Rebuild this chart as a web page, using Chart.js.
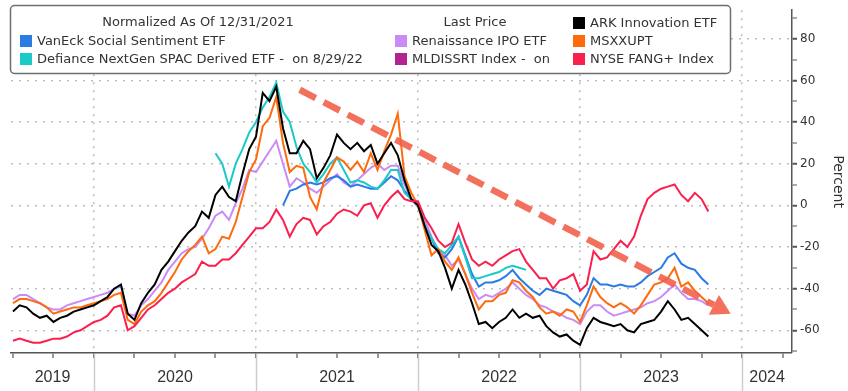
<!DOCTYPE html>
<html>
<head>
<meta charset="utf-8">
<script src="https://cdn.jsdelivr.net/npm/chart.js@4.4.1/dist/chart.umd.min.js"></script>
<style>
  html, body { margin: 0; padding: 0; background: #fff; }
  #wrap { position: relative; width: 848px; height: 391px; }
</style>
</head>
<body>
<div id="wrap"><canvas id="chart" width="848" height="391"></canvas></div>
<script>
'use strict';

// semi-monthly observation dates
var dates = [
  '2019-07-01','2019-07-16','2019-08-01','2019-08-16','2019-09-01','2019-09-16','2019-10-01','2019-10-16','2019-11-01','2019-11-16','2019-12-01','2019-12-16',
  '2020-01-01','2020-01-16','2020-02-01','2020-02-16','2020-03-01','2020-03-16','2020-04-01','2020-04-16','2020-05-01','2020-05-16','2020-06-01','2020-06-16',
  '2020-07-01','2020-07-16','2020-08-01','2020-08-16','2020-09-01','2020-09-16','2020-10-01','2020-10-16','2020-11-01','2020-11-16','2020-12-01','2020-12-16',
  '2021-01-01','2021-01-16','2021-02-01','2021-02-16','2021-03-01','2021-03-16','2021-04-01','2021-04-16','2021-05-01','2021-05-16','2021-06-01','2021-06-16',
  '2021-07-01','2021-07-16','2021-08-01','2021-08-16','2021-09-01','2021-09-16','2021-10-01','2021-10-16','2021-11-01','2021-11-16','2021-12-01','2021-12-16',
  '2022-01-01','2022-01-16','2022-02-01','2022-02-16','2022-03-01','2022-03-16','2022-04-01','2022-04-16','2022-05-01','2022-05-16','2022-06-01','2022-06-16',
  '2022-07-01','2022-07-16','2022-08-01','2022-08-16','2022-09-01','2022-09-16','2022-10-01','2022-10-16','2022-11-01','2022-11-16','2022-12-01','2022-12-16',
  '2023-01-01','2023-01-16','2023-02-01','2023-02-16','2023-03-01','2023-03-16','2023-04-01','2023-04-16','2023-05-01','2023-05-16','2023-06-01','2023-06-16',
  '2023-07-01','2023-07-16','2023-08-01','2023-08-16','2023-09-01','2023-09-16','2023-10-01','2023-10-16'
];

var ark = [
  -51,-48,-49,-52,-54,-53,-56,-54,-53,-51,-50,-49,
  -48,-46,-44,-40,-38,-52,-55,-47,-42,-38,-31,-27,
  -22,-17,-13,-10,-3,-6,5,9,4,2,15,27,
  33,54,50,57,37,25,25,31,27,13,18,24,
  34,30,27,30,26,29,20,25,30,24,12,3,
  0,-10,-19,-22,-30,-40,-31,-38,-47,-57,-56,-59,
  -56,-54,-50,-54,-52,-54,-53,-58,-61,-63,-62,-65,
  -67,-59,-54,-56,-57,-58,-57,-60,-61,-57,-56,-55,
  -51,-46,-50,-55,-54,-57,-60,-63
];

var msxxupt = [
  -47,-45,-45,-46,-47,-49,-52,-51,-50,-49,-49,-48,
  -47,-46,-45,-43,-42,-55,-57,-51,-48,-46,-42,-37,
  -32,-26,-22,-19,-15,-23,-21,-15,-16,-8,4,16,
  22,38,42,52,30,16,19,18,4,-2,11,17,
  23,21,17,21,16,25,17,26,34,44,14,6,
  0,-12,-24,-21,-27,-31,-25,-33,-42,-50,-46,-46,
  -43,-42,-36,-37,-41,-44,-49,-52,-51,-53,-50,-51,
  -56,-48,-39,-44,-47,-49,-47,-49,-52,-48,-43,-38,
  -37,-35,-30,-39,-37,-41,-44,-47
];

var renaissance = [
  -45,-43,-43,-45,-47,-49,-50,-50,-48,-47,-46,-45,
  -44,-43,-42,-40,-39,-52,-53,-48,-45,-41,-37,-31,
  -27,-23,-21,-20,-16,-11,-5,-3,-7,1,8,17,
  16,21,26,31,20,9,13,11,8,6,9,12,
  15,11,9,12,15,18,20,17,19,19,10,3,
  -1,-7,-15,-22,-24,-29,-26,-33,-40,-45,-43,-44,
  -42,-40,-37,-40,-43,-45,-48,-49,-51,-52,-54,-55,
  -57,-51,-48,-48,-51,-53,-52,-51,-50,-49,-47,-46,
  -44,-41,-38,-42,-45,-45,-46,-48
];

var fang = [
  -65,-64,-65,-66,-66,-65,-64,-64,-63,-61,-60,-58,
  -56,-55,-53,-49,-48,-60,-58,-54,-50,-48,-45,-42,
  -40,-37,-35,-33,-27,-29,-29,-26,-26,-23,-19,-15,
  -11,-11,-8,-2,-7,-15,-9,-6,-7,-14,-10,-8,
  -4,-2,-3,-5,0,1,-6,0,4,7,3,2,
  2,-6,-11,-17,-20,-18,-9,-18,-26,-29,-27,-29,
  -26,-24,-22,-21,-27,-31,-35,-35,-40,-36,-35,-33,
  -41,-38,-22,-26,-25,-21,-17,-20,-15,-5,3,6,
  8,9,10,5,2,6,3,-3
];

var spac = [
  null,null,null,null,null,null,null,null,null,null,null,null,
  null,null,null,null,null,null,null,null,null,null,null,null,
  null,null,null,null,null,null,25,20,9,20,27,35,
  40,47,52,59,45,40,28,20,16,11,15,20,
  23,17,11,12,11,9,8,12,17,17,6,3,
  0,-10,-16,-21,-23,-19,-15,-25,-35,-35,-34,-33,
  -32,-30,-29,-30,-31
];

var buzz = [
  null,null,null,null,null,null,null,null,null,null,null,null,
  null,null,null,null,null,null,null,null,null,null,null,null,
  null,null,null,null,null,null,null,null,null,null,null,null,
  null,null,null,null,0,7,8,10,11,10,11,13,
  14,12,9,10,9,8,8,11,14,12,7,3,
  1,-10,-16,-23,-25,-21,-15,-24,-33,-39,-37,-37,
  -36,-34,-31,-35,-38,-41,-43,-40,-41,-42,-43,-46,
  -48,-43,-35,-38,-38,-39,-38,-39,-39,-37,-34,-32,
  -30,-25,-23,-28,-30,-31,-35,-38
];

var mldissrt = [];

var yTicks = [-70,-60,-50,-40,-30,-20,-10,0,10,20,30,40,50,60,70,80,90];
var yearLabels = ['2019','2020','2021','2022','2023','2024'];
var legendHeaders = ['Normalized As Of 12/31/2021', 'Last Price'];

// trend arrow, in data units: [year, percent]
var arrowFrom = [2021.27, 55.5];
var arrowTo = [2023.93, -52];

var X_MIN = 2019.488, X_MAX = 2024.308;

function toYear(s) {
  var p = s.split('-');
  return +p[0] + (p[1] - 1) / 12 + (p[2] - 1) / 360;
}

function points(values) {
  return values.map(function(v, i) { return { x: toYear(dates[i]), y: v }; });
}

// drawn first = on top
var series = [
  { label: 'NYSE FANG+ Index', data: fang, color: '#fb1f4e' },
  { label: 'ARK Innovation ETF', data: ark, color: '#000000' },
  { label: 'MSXXUPT', data: msxxupt, color: '#ff6a0d' },
  { label: 'Defiance NextGen SPAC Derived ETF -  on 8/29/22', data: spac, color: '#1cc9c9' },
  { label: 'VanEck Social Sentiment ETF', data: buzz, color: '#2a7be4' },
  { label: 'Renaissance IPO ETF', data: renaissance, color: '#c98cf7' },
  { label: 'MLDISSRT Index -  on', data: mldissrt, color: '#b3228f' }
];

var legendItems = [
  { label: 'VanEck Social Sentiment ETF', color: '#2a7be4', col: 0, row: 1 },
  { label: 'Defiance NextGen SPAC Derived ETF -  on 8/29/22', color: '#1cc9c9', col: 0, row: 2 },
  { label: 'Renaissance IPO ETF', color: '#c98cf7', col: 1, row: 1 },
  { label: 'MLDISSRT Index -  on', color: '#b3228f', col: 1, row: 2 },
  { label: 'ARK Innovation ETF', color: '#000000', col: 2, row: 0 },
  { label: 'MSXXUPT', color: '#ff6a0d', col: 2, row: 1 },
  { label: 'NYSE FANG+ Index', color: '#fb1f4e', col: 2, row: 2 }
];
var legendCols = [20, 395, 573];
var legendRows = [23, 41, 59];

var TEXT = '#333333';
var FONT = '"DejaVu Sans", Verdana, sans-serif';

var arrowPlugin = {
  id: 'trendArrow',
  afterDatasetsDraw: function(chart) {
    var c = chart.ctx, xs = chart.scales.x, ys = chart.scales.y;
    var x1 = xs.getPixelForValue(arrowFrom[0]), y1 = ys.getPixelForValue(arrowFrom[1]);
    var x2 = xs.getPixelForValue(arrowTo[0]), y2 = ys.getPixelForValue(arrowTo[1]);
    var ang = Math.atan2(y2 - y1, x2 - x1);
    var headLen = 19, headW = 11;
    var bx = x2 - headLen * Math.cos(ang), by = y2 - headLen * Math.sin(ang);
    c.save();
    c.strokeStyle = 'rgba(241,96,74,0.9)';
    c.fillStyle = 'rgba(241,96,74,0.9)';
    c.lineWidth = 6.5;
    c.setLineDash([18, 9]);
    c.beginPath();
    c.moveTo(x1, y1);
    c.lineTo(bx, by);
    c.stroke();
    c.setLineDash([]);
    c.beginPath();
    c.moveTo(x2, y2);
    c.lineTo(bx + headW * Math.sin(ang), by - headW * Math.cos(ang));
    c.lineTo(bx - headW * Math.sin(ang), by + headW * Math.cos(ang));
    c.closePath();
    c.fill();
    c.restore();
  }
};

var legendPlugin = {
  id: 'boxLegend',
  afterDraw: function(chart) {
    var c = chart.ctx;
    c.save();
    c.beginPath();
    c.roundRect(10.5, 5.5, 720, 68, 4);
    c.fillStyle = '#ffffff';
    c.fill();
    c.strokeStyle = '#6e6e6e';
    c.lineWidth = 1.5;
    c.stroke();
    c.font = '13px ' + FONT;
    c.textBaseline = 'middle';
    c.fillStyle = TEXT;
    c.textAlign = 'center';
    c.fillText(legendHeaders[0], 198, legendRows[0]);
    c.fillText(legendHeaders[1], 475, legendRows[0]);
    c.textAlign = 'left';
    legendItems.forEach(function(it) {
      var x = legendCols[it.col], y = legendRows[it.row];
      c.fillStyle = it.color;
      c.fillRect(x, y - 6, 12, 12);
      c.fillStyle = TEXT;
      c.fillText(it.label, x + 17, y + 1);
    });
    c.restore();
  }
};

var yearAxisPlugin = {
  id: 'yearAxis',
  afterDraw: function(chart) {
    var c = chart.ctx, xs = chart.scales.x, area = chart.chartArea;
    c.save();
    c.strokeStyle = '#cccccc';
    c.lineWidth = 1.5;
    for (var yr = 2020; yr <= 2024; yr++) {
      var px = Math.round(xs.getPixelForValue(yr)) + 0.5;
      c.beginPath();
      c.moveTo(px, area.bottom + 1);
      c.lineTo(px, chart.height);
      c.stroke();
    }
    c.font = '16px "Liberation Sans Narrow", "Liberation Sans", sans-serif';
    c.fillStyle = TEXT;
    c.textAlign = 'center';
    c.textBaseline = 'middle';
    yearLabels.forEach(function(lbl) {
      var y0 = Math.max(+lbl, X_MIN), y1 = Math.min(+lbl + 1, X_MAX);
      c.fillText(lbl, xs.getPixelForValue((y0 + y1) / 2), 378);
    });
    c.restore();
  }
};

new Chart(document.getElementById('chart'), {
  type: 'line',
  data: {
    datasets: series.map(function(s) {
      return {
        label: s.label,
        data: points(s.data),
        borderColor: s.color,
        backgroundColor: s.color,
        borderWidth: 2,
        pointRadius: 0,
        tension: 0,
        fill: false
      };
    })
  },
  options: {
    responsive: false,
    animation: false,
    devicePixelRatio: 1,
    layout: { padding: { left: 11, top: 5, right: 0, bottom: 33 } },
    plugins: { legend: { display: false }, tooltip: { enabled: false } },
    scales: {
      x: {
        type: 'linear',
        position: 'bottom',
        min: X_MIN,
        max: X_MAX,
        afterBuildTicks: function(s) {
          var t = [];
          for (var q = 2019.5; q <= 2024.26; q += 0.25) t.push({ value: q });
          s.ticks = t;
        },
        ticks: { display: false, autoSkip: false },
        grid: {
          color: '#bdbdbd',
          lineWidth: function(ctx) { return ctx.tick && Math.abs(ctx.tick.value - Math.round(ctx.tick.value)) < 1e-6 ? 1.5 : 0; },
          tickColor: '#555555',
          tickWidth: 1.2,
          tickLength: 5
        },
        border: { display: true, color: '#555555', width: 1.5, dash: [2, 6] }
      },
      y: {
        position: 'right',
        min: -70.9,
        max: 93.7,
        afterBuildTicks: function(s) { s.ticks = yTicks.map(function(v) { return { value: v }; }); },
        afterFit: function(s) { s.width = 56; },
        ticks: {
          autoSkip: false,
          padding: 3,
          color: TEXT,
          font: { family: FONT, size: 12 },
          callback: function(v) { return v % 20 === 0 ? String(v) : ''; }
        },
        grid: {
          color: '#bdbdbd',
          lineWidth: function(ctx) { return ctx.tick && ctx.tick.value % 20 === 0 && ctx.tick.value <= 80 ? 1.5 : 0; },
          tickColor: '#555555',
          tickWidth: function(ctx) { return ctx.tick && ctx.tick.value % 20 === 0 ? 2 : 1; },
          tickLength: 5
        },
        border: { display: true, color: '#555555', width: 1.5, dash: [2, 6] },
        title: {
          display: true,
          text: 'Percent',
          color: TEXT,
          font: { family: FONT, size: 14 },
          padding: { top: 2, bottom: 0 }
        }
      }
    }
  },
  plugins: [arrowPlugin, legendPlugin, yearAxisPlugin]
});
</script>
</body>
</html>
